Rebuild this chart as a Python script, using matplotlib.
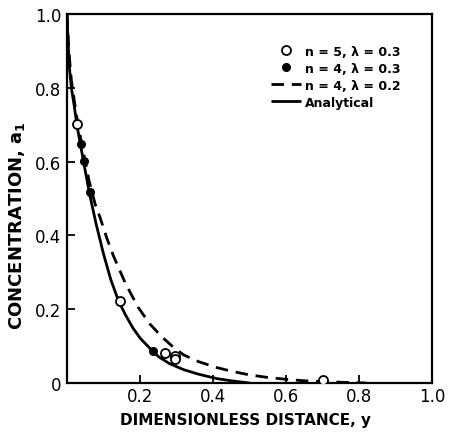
import matplotlib
matplotlib.use("Agg")
import matplotlib.pyplot as plt

plt.rcParams['font.family'] = ['DejaVu Sans']
plt.rcParams['mathtext.fontset'] = 'custom'
plt.rcParams['mathtext.rm'] = 'DejaVu Sans'
plt.rcParams['mathtext.bf'] = 'DejaVu Sans:bold'
plt.rcParams['mathtext.it'] = 'DejaVu Sans:italic'

# Open circles: n = 5, lambda = 0.3
open_x = [0.027, 0.145, 0.268, 0.297, 0.297, 0.702]
open_y = [0.703, 0.222, 0.081, 0.074, 0.064, 0.008]

# Filled circles: n = 4, lambda = 0.3
fill_x = [0.037, 0.047, 0.062, 0.236]
fill_y = [0.648, 0.602, 0.518, 0.088]

# Dashed curve: n = 4, lambda = 0.2
dash_x = [0.0, 0.005, 0.012, 0.025, 0.04, 0.06, 0.077, 0.09, 0.11, 0.127, 0.16,
          0.195, 0.227, 0.26, 0.297, 0.32, 0.36, 0.41, 0.45, 0.50, 0.55, 0.60,
          0.65, 0.70, 0.75, 0.82]
dash_y = [1.0, 0.90, 0.82, 0.73, 0.65, 0.55, 0.485, 0.45, 0.39, 0.345, 0.27,
          0.205, 0.16, 0.125, 0.092, 0.076, 0.058, 0.042, 0.032, 0.022, 0.015,
          0.010, 0.006, 0.004, 0.002, 0.0]

# Solid curve: analytical
sol_x = [0.0, 0.003, 0.007, 0.012, 0.02, 0.027, 0.037, 0.05, 0.063, 0.08, 0.10,
         0.12, 0.141, 0.16, 0.18, 0.20, 0.227, 0.25, 0.28, 0.32, 0.36, 0.41,
         0.45, 0.50]
sol_y = [1.0, 0.92, 0.85, 0.80, 0.75, 0.70, 0.645, 0.575, 0.507, 0.43, 0.35,
         0.28, 0.223, 0.185, 0.15, 0.122, 0.094, 0.072, 0.053, 0.036, 0.024,
         0.012, 0.006, 0.0]

xticks = [0.2, 0.4, 0.6, 0.8, 1.0]
xticklabels = ['0.2', '0.4', '0.6', '0.8', '1.0']
yticks = [0.0, 0.2, 0.4, 0.6, 0.8, 1.0]
yticklabels = ['0', '0.2', '0.4', '0.6', '0.8', '1.0']

fig = plt.figure(figsize=(4.49, 4.35), dpi=100)
ax = fig.add_axes([67/449, 51/435, 365/449, 369/435])

ax.plot(sol_x, sol_y, color='black', lw=2.0, solid_capstyle='butt',
        solid_joinstyle='round', label='Analytical', zorder=2)
ax.plot(dash_x, dash_y, color='black', lw=2.0, dashes=(4.5, 2.8),
        label=u'n = 4, \u03bb = 0.2', zorder=2)
ax.plot(fill_x, fill_y, 'o', color='black', markersize=5.5,
        label=u'n = 4, \u03bb = 0.3', zorder=3)
ax.plot(open_x, open_y, 'o', markerfacecolor='white', markeredgecolor='black',
        markeredgewidth=1.3, markersize=6.5, label=u'n = 5, \u03bb = 0.3', zorder=4)

ax.set_xlim(0, 1.0)
ax.set_ylim(0, 1.0)
ax.set_xticks(xticks)
ax.set_xticklabels(xticklabels)
ax.set_yticks(yticks)
ax.set_yticklabels(yticklabels)
ax.tick_params(direction='in', length=6, width=1.3, labelsize=12, pad=4)
ax.tick_params(axis='x', pad=3)
for s in ax.spines.values():
    s.set_linewidth(1.6)

ax.set_xlabel('DIMENSIONLESS DISTANCE, y', fontsize=11, fontweight='bold',
              va='center')
ax.xaxis.set_label_coords(0.488, -0.098)
ax.set_ylabel(r'CONCENTRATION, $\mathbf{a_1}$', fontsize=13, fontweight='bold',
              va='center')
ax.yaxis.set_label_coords(-0.137, 0.43)

handles, labels = ax.get_legend_handles_labels()
order = [3, 2, 1, 0]
leg = ax.legend([handles[i] for i in order], [labels[i] for i in order],
                loc='upper left', bbox_to_anchor=(0.546, 0.93), frameon=False,
                handlelength=2.4, handletextpad=0.3, labelspacing=0.32,
                prop={'weight': 'bold', 'size': 9}, borderaxespad=0)

fig.savefig('out.png', dpi=100)
